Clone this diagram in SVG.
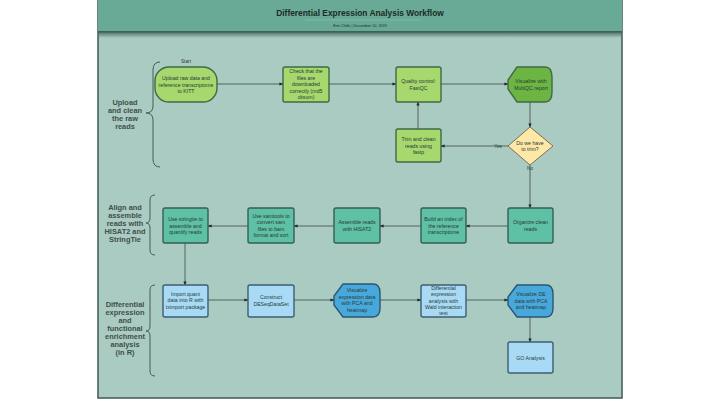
<svg xmlns="http://www.w3.org/2000/svg" width="720" height="405" viewBox="0 0 720 405">
<style>
text{font-family:"Liberation Sans",Arial,sans-serif;fill:#2a3a34;text-anchor:middle}
.nt{font-size:5.2px}
.lab{font-size:7.4px;font-weight:bold;fill:#3f4f4a}
.g1{fill:#a6d86e;stroke:#3f6a45;stroke-width:1.4}
.g2{fill:#6cb543;stroke:#3f6a45;stroke-width:1.4}
.tl{fill:#5ec0a5;stroke:#355f57;stroke-width:1.4}
.lb{fill:#a8daf6;stroke:#3e5e72;stroke-width:1.4}
.bl{fill:#47a8dc;stroke:#2c5670;stroke-width:1.4}
.dy{fill:#fde8a8;stroke:#7d7050;stroke-width:1}
.c{fill:none;stroke:#3c4a46;stroke-width:0.8}
.br{fill:none;stroke:#4a5a56;stroke-width:1}
</style>
<defs>
<marker id="ah" viewBox="0 0 10 10" refX="9" refY="5" markerWidth="5" markerHeight="5" orient="auto">
<path d="M0,1 L10,5 L0,9 Z" fill="#1f2a27"/>
</marker>
<linearGradient id="sh" x1="0" y1="0" x2="0" y2="1">
<stop offset="0" stop-color="#5e7f76"/>
<stop offset="1" stop-color="#a9cbc2"/>
</linearGradient>
</defs>
<rect x="0" y="0" width="720" height="405" fill="#ffffff"/>
<g id="page">
<rect x="98" y="0" width="524" height="398" fill="#a9cbc2" stroke="#3d5a52" stroke-width="1.5"/>
<rect x="99" y="33" width="522" height="5" fill="url(#sh)"/>
<rect x="98" y="0" width="524" height="32" fill="#69aa97"/>
<line x1="98" y1="32" x2="622" y2="32" stroke="#2f4a43" stroke-width="1.6"/>
<text x="360" y="16" style="font-size:8.4px;font-weight:bold;fill:#1d2a26">Differential Expression Analysis Workflow</text>
<line x1="305" y1="20" x2="420" y2="20" stroke="#8fc4b4" stroke-width="0.6"/>
<text x="360" y="26.5" style="font-size:3.8px;fill:#1d2a26">Erin Chille  |  December 10, 2019</text>
</g>
<g id="braces">
<path class="br" d="M160,62 Q153,62 153,70 L153,106 Q153,113 146,113 Q153,113 153,120 L153,159 Q153,167 160,167"/>
<path class="br" d="M155,195 Q150,195 150,200 L150,218 Q150,223 146,223 Q150,223 150,228 L150,250 Q150,255 155,255"/>
<path class="br" d="M155,285 Q150,285 150,290 L150,326 Q150,331 146,331 Q150,331 150,336 L150,371 Q150,376 155,376"/>
<text class="lab" x="125" y="105">Upload</text>
<text class="lab" x="125" y="113">and clean</text>
<text class="lab" x="125" y="121">the raw</text>
<text class="lab" x="125" y="129">reads</text>
<text class="lab" x="125" y="210">Align and</text>
<text class="lab" x="125" y="218">assemble</text>
<text class="lab" x="125" y="226">reads with</text>
<text class="lab" x="125" y="234">HISAT2 and</text>
<text class="lab" x="125" y="242">StringTie</text>
<text class="lab" x="125" y="307">Differential</text>
<text class="lab" x="125" y="315">expression</text>
<text class="lab" x="125" y="323">and</text>
<text class="lab" x="125" y="331">functional</text>
<text class="lab" x="125" y="339">enrichment</text>
<text class="lab" x="125" y="347">analysis</text>
<text class="lab" x="125" y="355">(in R)</text>
</g>
<g id="connectors">
<line class="c" x1="217" y1="84" x2="283" y2="84" marker-end="url(#ah)"/>
<line class="c" x1="329" y1="84" x2="396" y2="84" marker-end="url(#ah)"/>
<line class="c" x1="441" y1="84" x2="508" y2="84" marker-end="url(#ah)"/>
<line class="c" x1="530" y1="102" x2="530" y2="127" marker-end="url(#ah)"/>
<line class="c" x1="508" y1="146" x2="441" y2="146" marker-end="url(#ah)"/>
<line class="c" x1="418" y1="129" x2="418" y2="102" marker-end="url(#ah)"/>
<line class="c" x1="530" y1="165" x2="530" y2="208" marker-end="url(#ah)"/>
<line class="c" x1="508" y1="226" x2="466" y2="226" marker-end="url(#ah)"/>
<line class="c" x1="421" y1="226" x2="380" y2="226" marker-end="url(#ah)"/>
<line class="c" x1="334" y1="226" x2="294" y2="226" marker-end="url(#ah)"/>
<line class="c" x1="248" y1="226" x2="208" y2="226" marker-end="url(#ah)"/>
<line class="c" x1="185" y1="243" x2="185" y2="285" marker-end="url(#ah)"/>
<line class="c" x1="208" y1="300" x2="248" y2="300" marker-end="url(#ah)"/>
<line class="c" x1="294" y1="300" x2="334" y2="300" marker-end="url(#ah)"/>
<line class="c" x1="380" y1="300" x2="421" y2="300" marker-end="url(#ah)"/>
<line class="c" x1="466" y1="300" x2="508" y2="300" marker-end="url(#ah)"/>
<line class="c" x1="530" y1="317" x2="530" y2="342" marker-end="url(#ah)"/>
<text x="498" y="148" style="font-size:4.6px">Yes</text>
<text x="530" y="170" style="font-size:4.6px">No</text>
</g>
<g id="n-upload">
<text x="186" y="63" style="font-size:4.8px">Start</text>
<rect class="g1" x="155" y="67" width="62" height="35" rx="14"/>
<text class="nt" x="186" y="80">Upload raw data and</text>
<text class="nt" x="186" y="86.5">reference transcriptome</text>
<text class="nt" x="186" y="93">to KITT</text>
</g>
<g id="n-check">
<rect class="g1" x="283" y="67" width="46" height="35" rx="2"/>
<text class="nt" x="306" y="73">Check that the</text>
<text class="nt" x="306" y="79.5">files are</text>
<text class="nt" x="306" y="86">downloaded</text>
<text class="nt" x="306" y="92.5">correctly (md5</text>
<text class="nt" x="306" y="99">cksum)</text>
</g>
<g id="n-qc">
<rect class="g1" x="396" y="67" width="45" height="35" rx="2"/>
<text class="nt" x="418.5" y="83">Quality control:</text>
<text class="nt" x="418.5" y="89.5">FastQC</text>
</g>
<g id="n-multiqc">
<path class="g2" d="M517,67 L545,67 Q552,67 552,77 L552,92 Q552,102 545,102 L517,102 L508,89 L508,80 Z"/>
<text class="nt" x="531" y="83">Visualize with</text>
<text class="nt" x="531" y="89.5">MultiQC report</text>
</g>
<g id="n-trim">
<rect class="g1" x="396" y="129" width="45" height="33" rx="2"/>
<text class="nt" x="418.5" y="141">Trim and clean</text>
<text class="nt" x="418.5" y="147.5">reads using</text>
<text class="nt" x="418.5" y="154">fastp</text>
</g>
<g id="n-decision">
<path class="dy" d="M530,127 L553,146 L530,165 L508,146 Z"/>
<text class="nt" x="530" y="144.5">Do we have</text>
<text class="nt" x="530" y="151">to trim?</text>
</g>
<g id="n-organize">
<rect class="tl" x="508" y="208" width="45" height="35" rx="2"/>
<text class="nt" x="530.5" y="224">Organize clean</text>
<text class="nt" x="530.5" y="230.5">reads</text>
</g>
<g id="n-index">
<rect class="tl" x="421" y="208" width="45" height="35" rx="2"/>
<text class="nt" x="443.5" y="221">Build an index of</text>
<text class="nt" x="443.5" y="227.5">the reference</text>
<text class="nt" x="443.5" y="234">transcriptome</text>
</g>
<g id="n-hisat">
<rect class="tl" x="334" y="208" width="46" height="35" rx="2"/>
<text class="nt" x="357" y="224">Assemble reads</text>
<text class="nt" x="357" y="230.5">with HISAT2</text>
</g>
<g id="n-samtools">
<rect class="tl" x="248" y="208" width="46" height="35" rx="2"/>
<text class="nt" x="271" y="217.5">Use samtools to</text>
<text class="nt" x="271" y="224">convert sam</text>
<text class="nt" x="271" y="230.5">files to bam</text>
<text class="nt" x="271" y="237">format and sort</text>
</g>
<g id="n-stringtie">
<rect class="tl" x="163" y="208" width="45" height="35" rx="2"/>
<text class="nt" x="185.5" y="221">Use stringtie to</text>
<text class="nt" x="185.5" y="227.5">assemble and</text>
<text class="nt" x="185.5" y="234">quantify reads</text>
</g>
<g id="n-import">
<rect class="lb" x="163" y="285" width="45" height="32" rx="2"/>
<text class="nt" x="185.5" y="295.5">Import quant</text>
<text class="nt" x="185.5" y="302">data  into R with</text>
<text class="nt" x="185.5" y="308.5">tximport package</text>
</g>
<g id="n-deseq">
<rect class="lb" x="248" y="285" width="46" height="32" rx="2"/>
<text class="nt" x="271" y="299">Construct</text>
<text class="nt" x="271" y="305.5">DESeqDataSet</text>
</g>
<g id="n-vis1">
<path class="bl" d="M343,284 L373,284 Q380,284 380,293 L380,308 Q380,317 373,317 L343,317 L334,305 L334,296 Z"/>
<text class="nt" x="357" y="292">Visualize</text>
<text class="nt" x="357" y="298.5">expression data</text>
<text class="nt" x="357" y="305">with PCA and</text>
<text class="nt" x="357" y="311.5">heatmap</text>
</g>
<g id="n-wald">
<rect class="lb" x="421" y="285" width="45" height="32" rx="2"/>
<text class="nt" x="443.5" y="290">Differential</text>
<text class="nt" x="443.5" y="296">expression</text>
<text class="nt" x="443.5" y="302.5">analysis with</text>
<text class="nt" x="443.5" y="309">Wald interaction</text>
<text class="nt" x="443.5" y="315">test</text>
</g>
<g id="n-vis2">
<path class="bl" d="M517,285 L546,285 Q553,285 553,294 L553,308 Q553,317 546,317 L517,317 L508,305 L508,297 Z"/>
<text class="nt" x="531" y="296">Visualize DE</text>
<text class="nt" x="531" y="302.5">data with PCA</text>
<text class="nt" x="531" y="309">and heatmap</text>
</g>
<g id="n-go">
<rect class="lb" x="508" y="342" width="45" height="31" rx="2"/>
<text class="nt" x="530.5" y="359.5">GO Analysis</text>
</g>
</svg>
